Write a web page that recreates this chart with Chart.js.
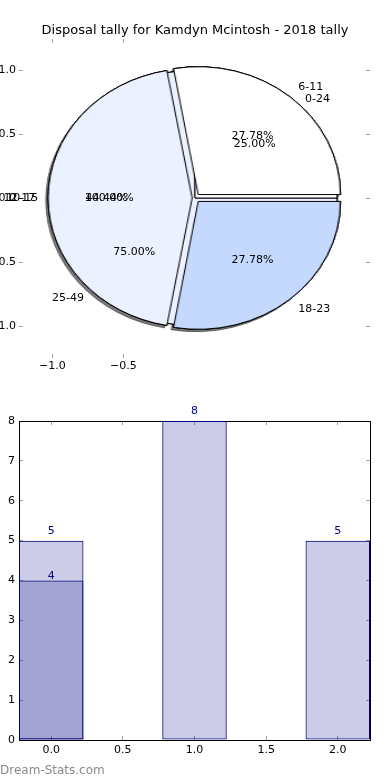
<!DOCTYPE html>
<html>
<head>
<meta charset="utf-8">
<script src="https://cdn.jsdelivr.net/npm/chart.js@4.4.1/dist/chart.umd.min.js"></script>
<style>
    html, body { margin: 0; padding: 0; background: #fff; }
    #wrap { position: relative; width: 390px; height: 780px; overflow: hidden; }
    #wrap canvas { position: absolute; }
    #pieLayer { position: absolute; left: 0; top: 0; width: 390px; height: 380px; }
    #pieAxes { left: 0; top: 0; }
    #bars { left: 0; top: 380px; }
    #mark { position: absolute; left: 0; top: 763px; font: 12px "DejaVu Sans", sans-serif; color: #8a8a8a; }
</style>
</head>
<body>
<div id="wrap">
    <div id="pieLayer"></div>
    <canvas id="pieAxes" width="390" height="380"></canvas>
    <canvas id="bars" width="390" height="400"></canvas>
    <div id="mark">Dream-Stats.com</div>
</div>
<script>
const chartTitle = 'Disposal tally for Kamdyn Mcintosh - 2018 tally';

// three pies were stacked on the same axes, bottom one first
const pieCLabels = ['10-15'];
const pieCValues = [1];
const pieBLabels = ['0-24', '25-49'];
const pieBValues = [1, 3];
const pieALabels = ['6-11', '12-17', '18-23'];
const pieAValues = [5, 8, 5];
const pieAExplode = [0.035, 0.02, 0.035];

const pieTicksX = [-1.0, -0.5];
const pieTicksY = [-1.0, -0.5, 0.0, 0.5, 1.0];

// bar part
const barX = [0, 1, 2];
const tallyValues = [5, 8, 5];
const secondX = [0];
const secondValues = [4];
const barTicksX = [0, 0.5, 1.0, 1.5, 2.0];
const barTicksY = [0, 1, 2, 3, 4, 5, 6, 7, 8];

const FONT = '"DejaVu Sans", sans-serif';
Chart.defaults.font.family = FONT;
Chart.defaults.font.size = 11;
Chart.defaults.color = '#000';

const pieAColors = ['#ffffff', '#ebf1fe', '#c5d8fe'];
const pies = [
    // shadow copy of the top pie, kept at the bottom so the other pies fill its gaps
    { labels: pieALabels, values: pieAValues, explode: pieAExplode, colors: pieAColors, shadow: true, texts: false },
    { labels: pieCLabels, values: pieCValues, explode: pieCValues.map(() => 0), colors: ['#ffffff'], shadow: false, texts: true },
    { labels: pieBLabels, values: pieBValues, explode: pieBValues.map(() => 0), colors: ['#ffffff', '#ebf1fe'], shadow: false, texts: true },
    { labels: pieALabels, values: pieAValues, explode: pieAExplode, colors: pieAColors, shadow: false, texts: true }
];

function fixedTicks(values) {
    return (scale) => {
        scale.ticks = values.map((value) => ({ value }));
    };
}

function signed(value) {
    return (value < 0 ? '\u2212' : '') + Math.abs(value).toFixed(1);
}

function tickGrid() {
    return { display: true, drawOnChartArea: false, drawTicks: true, tickLength: -4, color: '#a0a0a0', lineWidth: 1 };
}

const pieLabelPlugin = {
    id: 'pieLabels',
    afterDraw(chart) {
        const { ctx, scales } = chart;
        ctx.save();
        ctx.font = '11px ' + FONT;
        ctx.fillStyle = '#000';
        ctx.textBaseline = 'middle';
        pies.filter((pie) => pie.texts).forEach((pie) => {
            const total = pie.values.reduce((a, b) => a + b, 0);
            let acc = 0;
            pie.values.forEach((value, i) => {
                const mid = (acc + value / 2) / total * Math.PI * 2;
                acc += value;
                const ox = pie.explode[i] * Math.cos(mid);
                const oy = pie.explode[i] * Math.sin(mid);
                const lx = ox + 1.1 * Math.cos(mid);
                const ly = oy + 1.1 * Math.sin(mid);
                ctx.textAlign = lx > 0 ? 'left' : 'right';
                ctx.fillText(pie.labels[i], scales.x.getPixelForValue(lx), scales.y.getPixelForValue(ly));
                ctx.textAlign = 'center';
                const pct = (value / total * 100).toFixed(2) + '%';
                ctx.fillText(pct, scales.x.getPixelForValue(ox + 0.6 * Math.cos(mid)), scales.y.getPixelForValue(oy + 0.6 * Math.sin(mid)));
            });
        });
        ctx.restore();
    }
};

const axesChart = new Chart(document.getElementById('pieAxes'), {
    type: 'scatter',
    data: { datasets: [{ data: [] }] },
    options: {
        responsive: false,
        animation: false,
        events: [],
        layout: { padding: 0 },
        plugins: {
            legend: { display: false },
            tooltip: { enabled: false },
            title: {
                display: true,
                text: chartTitle,
                color: '#000',
                font: { size: 13, weight: 'normal' },
                padding: { top: 22.5, bottom: 0.4 }
            }
        },
        scales: {
            x: {
                type: 'linear', position: 'bottom', min: -1.235, max: 1.235,
                afterBuildTicks: fixedTicks(pieTicksX),
                afterFit: (s) => { s.height = 22; },
                grid: tickGrid(),
                border: { display: false },
                ticks: { callback: signed, padding: 6, maxRotation: 0, autoSkip: false }
            },
            xTop: {
                type: 'linear', position: 'top', min: -1.235, max: 1.235,
                afterBuildTicks: fixedTicks(pieTicksX),
                afterFit: (s) => { s.height = 0; },
                grid: tickGrid(),
                border: { display: false },
                ticks: { display: false }
            },
            y: {
                type: 'linear', position: 'left', min: -1.25, max: 1.25,
                afterBuildTicks: fixedTicks(pieTicksY),
                afterFit: (s) => { s.width = 19; },
                grid: tickGrid(),
                border: { display: false },
                ticks: { callback: signed, padding: 7, autoSkip: false }
            },
            yR: {
                type: 'linear', position: 'right', min: -1.25, max: 1.25,
                afterBuildTicks: fixedTicks(pieTicksY),
                afterFit: (s) => { s.width = 20; },
                grid: tickGrid(),
                border: { display: false },
                ticks: { display: false }
            }
        }
    },
    plugins: [pieLabelPlugin]
});

// pies sit under the axes canvas, centred on (0,0) of its scales
const sxAxis = axesChart.scales.x;
const syAxis = axesChart.scales.y;
const cx = sxAxis.getPixelForValue(0);
const cy = syAxis.getPixelForValue(0);
const ry = cy - syAxis.getPixelForValue(1);
const rx = sxAxis.getPixelForValue(1) - cx;
const side = Math.round(2 * ry + 40);

const shadowPlugin = {
    id: 'pieShadow',
    beforeDatasetsDraw(chart) {
        const ctx = chart.ctx;
        ctx.save();
        ctx.shadowColor = 'rgba(50, 50, 50, 0.65)';
        ctx.shadowOffsetX = -2.4 * ry / rx;
        ctx.shadowOffsetY = 2.4;
        ctx.shadowBlur = 0.6;
        chart.getDatasetMeta(0).data.forEach((arc) => arc.draw(ctx));
        ctx.restore();
    }
};

const pieLayer = document.getElementById('pieLayer');
pies.forEach((pie) => {
    const canvas = document.createElement('canvas');
    canvas.width = side;
    canvas.height = side;
    canvas.style.left = (cx - side / 2) + 'px';
    canvas.style.top = (cy - side / 2) + 'px';
    canvas.style.transform = 'scaleX(' + (rx / ry) + ')';
    pieLayer.appendChild(canvas);

    // Chart.js goes clockwise from the top; reversed data with rotation 90
    // gives matplotlib's counter-clockwise start at 3 o'clock
    new Chart(canvas, {
        type: 'pie',
        data: {
            labels: [...pie.labels].reverse(),
            datasets: [{
                data: [...pie.values].reverse(),
                backgroundColor: [...pie.colors].reverse(),
                offset: pie.explode.map((e) => e * ry * 4).reverse(),
                borderColor: '#000',
                borderWidth: 1
            }]
        },
        options: {
            responsive: false,
            animation: false,
            events: [],
            rotation: 90,
            radius: ry,
            layout: { padding: 0 },
            plugins: { legend: { display: false }, tooltip: { enabled: false } }
        },
        plugins: pie.shadow ? [shadowPlugin] : []
    });
});

const barLabelPlugin = {
    id: 'barLabels',
    afterDatasetsDraw(chart) {
        const ctx = chart.ctx;
        ctx.save();
        ctx.font = '11px ' + FONT;
        ctx.fillStyle = '#000080';
        ctx.textAlign = 'center';
        ctx.textBaseline = 'middle';
        chart.data.datasets.forEach((ds, di) => {
            chart.getDatasetMeta(di).data.forEach((bar, i) => {
                ctx.fillText(String(ds.data[i].y), bar.x, bar.y - ds.labelGap);
            });
        });
        ctx.restore();
    }
};

function barStyle() {
    return {
        backgroundColor: 'rgba(0, 0, 128, 0.2)',
        borderColor: '#000080',
        borderWidth: 1,
        borderSkipped: false,
        grouped: false,
        // ticks every 0.5 set the sample size, so 0.9 of that = 0.45 wide
        barPercentage: 0.9,
        categoryPercentage: 1.0
    };
}

new Chart(document.getElementById('bars'), {
    type: 'bar',
    data: {
        datasets: [
            Object.assign({ label: 'second', labelGap: 4, data: secondX.map((x, i) => ({ x, y: secondValues[i] })) }, barStyle()),
            Object.assign({ label: 'tally', labelGap: 9.5, data: barX.map((x, i) => ({ x, y: tallyValues[i] })) }, barStyle())
        ]
    },
    options: {
        responsive: false,
        animation: false,
        events: [],
        layout: { padding: 0 },
        plugins: { legend: { display: false }, tooltip: { enabled: false } },
        scales: {
            x: {
                type: 'linear', position: 'bottom', min: -0.225, max: 2.225, offset: false,
                afterBuildTicks: fixedTicks(barTicksX),
                afterFit: (s) => { s.height = 40; },
                grid: Object.assign(tickGrid(), { offset: false }),
                border: { display: true, color: '#000' },
                ticks: { callback: (v) => Number(v).toFixed(1), padding: 8, maxRotation: 0, autoSkip: false }
            },
            xTop: {
                type: 'linear', position: 'top', min: -0.225, max: 2.225, offset: false,
                afterBuildTicks: fixedTicks(barTicksX),
                afterFit: (s) => { s.height = 41; },
                grid: Object.assign(tickGrid(), { offset: false }),
                border: { display: true, color: '#000' },
                ticks: { display: false }
            },
            y: {
                type: 'linear', position: 'left', min: 0, max: 8,
                afterBuildTicks: fixedTicks(barTicksY),
                afterFit: (s) => { s.width = 19; },
                grid: tickGrid(),
                border: { display: true, color: '#000' },
                ticks: { padding: 8, autoSkip: false }
            },
            yR: {
                type: 'linear', position: 'right', min: 0, max: 8,
                afterBuildTicks: fixedTicks(barTicksY),
                afterFit: (s) => { s.width = 20; },
                grid: tickGrid(),
                border: { display: true, color: '#000' },
                ticks: { display: false }
            }
        }
    },
    plugins: [barLabelPlugin]
});
</script>
</body>
</html>
